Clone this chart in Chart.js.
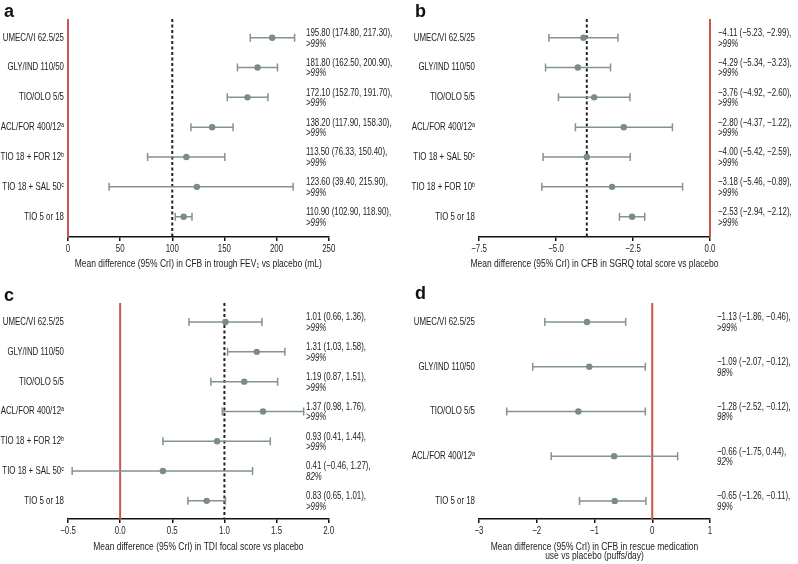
<!DOCTYPE html>
<html>
<head>
<meta charset="utf-8">
<script src="https://cdn.jsdelivr.net/npm/chart.js@4.4.1/dist/chart.umd.min.js"></script>
<style>
  body { margin: 0; background: #fff; width: 798px; height: 564px; position: relative; overflow: hidden; }
  canvas { position: absolute; }
  .tag { position: absolute; font: bold 18px "Liberation Sans", Arial, sans-serif; color: #111; line-height: 1; }
</style>
</head>
<body>
<canvas id="chartA" width="399" height="280" style="left:0;top:0"></canvas>
<canvas id="chartB" width="399" height="280" style="left:399px;top:0"></canvas>
<canvas id="chartC" width="399" height="284" style="left:0;top:280px"></canvas>
<canvas id="chartD" width="399" height="284" style="left:399px;top:280px"></canvas>
<div class="tag" style="left:4px;top:2px">a</div>
<div class="tag" style="left:415px;top:2px">b</div>
<div class="tag" style="left:4px;top:286px">c</div>
<div class="tag" style="left:415px;top:284px">d</div>
<script>
// ---- data ----
const labelsA = ['UMEC/VI 62.5/25', 'GLY/IND 110/50', 'TIO/OLO 5/5', 'ACL/FOR 400/12ᵃ', 'TIO 18 + FOR 12ᵇ', 'TIO 18 + SAL 50ᶜ', 'TIO 5 or 18'];
const meanA = [195.80, 181.80, 172.10, 138.20, 113.50, 123.60, 110.90];
const lowA  = [174.80, 162.50, 152.70, 117.90, 76.33, 39.40, 102.90];
const highA = [217.30, 200.90, 191.70, 158.30, 150.40, 215.90, 118.90];
const probA = ['>99%', '>99%', '>99%', '>99%', '>99%', '>99%', '>99%'];
const ticksA = [0, 50, 100, 150, 200, 250];

const labelsB = ['UMEC/VI 62.5/25', 'GLY/IND 110/50', 'TIO/OLO 5/5', 'ACL/FOR 400/12ᵃ', 'TIO 18 + SAL 50ᶜ', 'TIO 18 + FOR 10ᵇ', 'TIO 5 or 18'];
const meanB = [-4.11, -4.29, -3.76, -2.80, -4.00, -3.18, -2.53];
const lowB  = [-5.23, -5.34, -4.92, -4.37, -5.42, -5.46, -2.94];
const highB = [-2.99, -3.23, -2.60, -1.22, -2.59, -0.89, -2.12];
const probB = ['>99%', '>99%', '>99%', '>99%', '>99%', '>99%', '>99%'];
const ticksB = [-7.5, -5.0, -2.5, 0.0];

const labelsC = ['UMEC/VI 62.5/25', 'GLY/IND 110/50', 'TIO/OLO 5/5', 'ACL/FOR 400/12ᵃ', 'TIO 18 + FOR 12ᵇ', 'TIO 18 + SAL 50ᶜ', 'TIO 5 or 18'];
const meanC = [1.01, 1.31, 1.19, 1.37, 0.93, 0.41, 0.83];
const lowC  = [0.66, 1.03, 0.87, 0.98, 0.41, -0.46, 0.65];
const highC = [1.36, 1.58, 1.51, 1.76, 1.44, 1.27, 1.01];
const probC = ['>99%', '>99%', '>99%', '>99%', '>99%', '82%', '>99%'];
const ticksC = [-0.5, 0.0, 0.5, 1.0, 1.5, 2.0];

const labelsD = ['UMEC/VI 62.5/25', 'GLY/IND 110/50', 'TIO/OLO 5/5', 'ACL/FOR 400/12ᵃ', 'TIO 5 or 18'];
const meanD = [-1.13, -1.09, -1.28, -0.66, -0.65];
const lowD  = [-1.86, -2.07, -2.52, -1.75, -1.26];
const highD = [-0.46, -0.12, -0.12, 0.44, -0.11];
const probD = ['>99%', '98%', '98%', '92%', '99%'];
const ticksD = [-3, -2, -1, 0, 1];

// ---- styling ----
const FONT = '"Liberation Sans", Arial, sans-serif';
const FS = 10.5;
const TITLE_FS = 11.3;
const TXT = '#222';
const BAR = '#83938f';
const DOT = '#7b8b87';
const RED = '#c9564c';
const NARROW = 0.75; // no narrow face installed, so squeeze glyphs horizontally

// every canvas string gets drawn condensed around its own anchor point
// (maxWidth dropped on purpose: titles may run past the axis like the original)
const _fillText = CanvasRenderingContext2D.prototype.fillText;
CanvasRenderingContext2D.prototype.fillText = function (t, x, y) {
  this.save();
  this.translate(x, y);
  this.scale(NARROW, 1);
  _fillText.call(this, t, 0, 0);
  this.restore();
};

const minus = s => s.replace(/-/g, '\u2212');
const fmt2 = v => minus(v.toFixed(2));

const forestPlugin = {
  id: 'forest',
  beforeDatasetsDraw(chart, args, o) {
    const { ctx, chartArea: ca, scales: { x, y } } = chart;
    ctx.save();
    if (o.nullAt != null) {
      const px = x.getPixelForValue(o.nullAt);
      ctx.strokeStyle = RED; ctx.lineWidth = 2;
      ctx.beginPath(); ctx.moveTo(px, ca.top); ctx.lineTo(px, ca.bottom); ctx.stroke();
    }
    if (o.refAt != null) {
      const px = x.getPixelForValue(o.refAt);
      ctx.strokeStyle = '#222'; ctx.lineWidth = 2; ctx.setLineDash([3, 2.5]);
      ctx.beginPath(); ctx.moveTo(px, ca.top); ctx.lineTo(px, ca.bottom); ctx.stroke();
      ctx.setLineDash([]);
    }
    ctx.strokeStyle = BAR; ctx.lineWidth = 1.5;
    o.low.forEach((lo, i) => {
      const py = y.getPixelForValue(i);
      const x1 = x.getPixelForValue(lo), x2 = x.getPixelForValue(o.high[i]);
      ctx.beginPath();
      ctx.moveTo(x1, py); ctx.lineTo(x2, py);
      ctx.moveTo(x1, py - 4); ctx.lineTo(x1, py + 4);
      ctx.moveTo(x2, py - 4); ctx.lineTo(x2, py + 4);
      ctx.stroke();
    });
    ctx.restore();
  },
  afterDraw(chart, args, o) {
    const { ctx, scales: { y } } = chart;
    ctx.save();
    ctx.fillStyle = TXT; ctx.textAlign = 'left'; ctx.textBaseline = 'middle';
    o.mean.forEach((m, i) => {
      const py = y.getPixelForValue(i);
      ctx.font = FS + 'px ' + FONT;
      ctx.fillText(`${fmt2(m)} (${fmt2(o.low[i])}, ${fmt2(o.high[i])}),`, o.textX, py - 4.5);
      ctx.font = 'italic ' + FS + 'px ' + FONT;
      ctx.fillText(o.prob[i], o.textX, py + 6);
    });
    ctx.restore();
  }
};

function forest(id, p) {
  return new Chart(document.getElementById(id), {
    type: 'scatter',
    data: {
      datasets: [{
        data: p.mean.map((m, i) => ({ x: m, y: i })),
        backgroundColor: DOT, borderWidth: 0, pointRadius: 3.2, pointHoverRadius: 3.2,
      }],
    },
    options: {
      responsive: false, animation: false, devicePixelRatio: 1,
      layout: { padding: { left: 0, top: p.top, right: p.right, bottom: 0 } },
      plugins: {
        legend: { display: false }, tooltip: { enabled: false },
        forest: { low: p.low, high: p.high, mean: p.mean, prob: p.prob, nullAt: p.nullAt, refAt: p.refAt, textX: p.textX },
      },
      scales: {
        x: {
          type: 'linear', min: p.ticks[0], max: p.ticks[p.ticks.length - 1],
          afterBuildTicks: s => { s.ticks = p.ticks.map(v => ({ value: v })); },
          afterFit: s => { s.height = p.axisH; },
          border: { color: '#111', width: 1.5 },
          grid: { drawOnChartArea: false, drawTicks: true, tickLength: 4, color: '#111', lineWidth: 1.5 },
          ticks: { color: TXT, font: { family: FONT, size: FS }, padding: 2, maxRotation: 0,
                   callback: v => minus(v.toFixed(p.dec)) },
          title: { display: true, text: p.title, color: TXT, font: { family: FONT, size: TITLE_FS, lineHeight: p.titleLH },
                   padding: { top: 0, bottom: p.titlePad } },
        },
        y: {
          type: 'linear', reverse: true, min: p.ymin, max: p.ymin + p.yspan,
          afterBuildTicks: s => { s.ticks = p.labels.map((_, i) => ({ value: i })); },
          afterFit: s => { s.width = p.left; },
          border: { display: false },
          grid: { display: false, drawTicks: false },
          ticks: { color: TXT, font: { family: FONT, size: FS }, padding: 4, autoSkip: false,
                   callback: v => p.labels[v] },
        },
      },
    },
    plugins: [forestPlugin],
  });
}

forest('chartA', {
  labels: labelsA, mean: meanA, low: lowA, high: highA, prob: probA, ticks: ticksA, dec: 0,
  nullAt: 0, refAt: 100, textX: 306,
  left: 68, right: 399 - 328.7, top: 19, axisH: 280 - 237, ymin: -0.627, yspan: 7.308,
  title: 'Mean difference (95% CrI) in CFB in trough FEV\u2081 vs placebo (mL)', titleLH: 1.2, titlePad: 9.5,
});
forest('chartB', {
  labels: labelsB, mean: meanB, low: lowB, high: highB, prob: probB, ticks: ticksB, dec: 1,
  nullAt: 0, refAt: -4.0, textX: 319,
  left: 80, right: 399 - 311, top: 19, axisH: 280 - 237, ymin: -0.627, yspan: 7.308,
  title: 'Mean difference (95% CrI) in CFB in SGRQ total score vs placebo', titleLH: 1.2, titlePad: 9.5,
});
forest('chartC', {
  labels: labelsC, mean: meanC, low: lowC, high: highC, prob: probC, ticks: ticksC, dec: 1,
  nullAt: 0, refAt: 1.0, textX: 306,
  left: 68, right: 399 - 328.7, top: 23, axisH: 284 - 239, ymin: -0.64, yspan: 7.25,
  title: 'Mean difference (95% CrI) in TDI focal score vs placebo', titleLH: 1.2, titlePad: 10.5,
});
forest('chartD', {
  labels: labelsD, mean: meanD, low: lowD, high: highD, prob: probD, ticks: ticksD, dec: 0,
  nullAt: 0, refAt: null, textX: 318,
  left: 80, right: 399 - 311, top: 23, axisH: 284 - 239, ymin: -0.425, yspan: 4.83,
  title: ['Mean difference (95% CrI) in CFB in rescue medication', 'use vs placebo (puffs/day)'], titleLH: 0.82, titlePad: 3.4,
});
</script>
</body>
</html>
